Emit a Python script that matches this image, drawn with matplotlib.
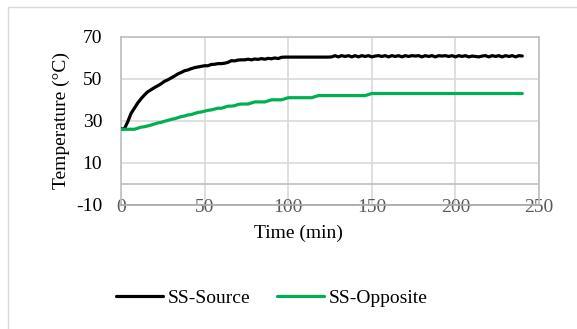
import matplotlib.pyplot as plt
import matplotlib.patches as patches

# data, one reading every 2 minutes
time_min = list(range(0, 242, 2))

ss_source = [26.2, 26.2, 29.5, 33.5, 36.0, 38.5, 40.5, 42.3, 43.8, 44.8,
             45.8, 46.7, 47.6, 48.8, 49.5, 50.4, 51.3, 52.3, 53.0, 53.8,
             54.2, 54.8, 55.3, 55.6, 55.9, 56.2, 56.2, 56.8, 56.9, 57.2,
             57.2, 57.4, 57.8, 58.6, 58.5, 58.9, 59.0, 59.0, 59.3, 59.0,
             59.4, 59.2, 59.6, 59.3, 59.7, 59.5, 59.9, 59.6, 60.2, 60.3,
             60.3, 60.3, 60.3, 60.3, 60.3, 60.3, 60.3, 60.3, 60.3, 60.3,
             60.3, 60.3, 60.3,
             60.4, 61.0, 60.4, 61.0, 60.6, 61.0, 60.4, 61.0, 60.4, 61.0,
             60.6, 61.0, 60.4, 60.8, 61.0, 60.6, 61.0, 60.4, 61.0, 60.6,
             61.0, 60.4, 61.0, 60.6, 61.0, 60.8, 61.0, 60.4, 61.0, 60.6,
             61.0, 60.4, 61.0, 60.8, 61.0, 60.6, 61.0, 60.4, 61.0, 60.6,
             61.0, 60.4, 60.8, 60.6, 60.4, 60.8, 61.0, 60.4, 61.0, 60.6,
             61.0, 60.4, 61.0, 60.6, 61.0, 60.4, 61.0, 60.8]

ss_opposite = [26, 26, 26, 26, 26,
               26.5, 27, 27.2, 27.6, 28, 28.5, 29, 29.3, 29.8, 30.2,
               30.7, 31, 31.5, 32, 32.3, 32.8, 33, 33.5, 34, 34.2,
               34.6, 35, 35.2, 35.6, 36, 36, 36.5, 37, 37, 37.2,
               37.8, 38, 38, 38, 38.5, 39, 39, 39, 39, 39.5,
               40, 40, 40, 40, 40.5,
               41, 41, 41, 41, 41, 41, 41, 41,
               41.5,
               42, 42, 42, 42, 42, 42, 42, 42, 42, 42, 42, 42, 42, 42, 42,
               42.5,
               43, 43, 43, 43, 43, 43, 43, 43, 43, 43, 43, 43, 43, 43, 43,
               43, 43, 43, 43, 43, 43, 43, 43, 43, 43, 43, 43, 43, 43, 43,
               43, 43, 43, 43, 43, 43, 43, 43, 43, 43, 43, 43, 43, 43, 43,
               43]

x_ticks = [0, 50, 100, 150, 200, 250]
y_ticks = [-10, 10, 30, 50, 70]

plt.rcParams['font.family'] = ['Liberation Serif', 'DejaVu Serif']
plt.rcParams['font.size'] = 14
plt.rcParams['axes.unicode_minus'] = False  # plain hyphen in "-10"

fig = plt.figure(figsize=(5.77, 3.29), dpi=100)
ax = fig.add_axes([121 / 577, 1 - 205 / 329, 418 / 577, 168.3 / 329])

# outer chart border (cropped on the right and bottom)
fig.patches.append(patches.Rectangle((7.5 / 577, -0.1), 1.2, 1.1 - 7.5 / 329,
                                     transform=fig.transFigure, fill=False,
                                     edgecolor='#d9d9d9', lw=1))

ax.plot(time_min, ss_source, color='black', lw=2.3, label='SS-Source',
        solid_capstyle='round', zorder=3)
ax.plot(time_min, ss_opposite, color='#00b050', lw=2.3, label='SS-Opposite',
        solid_capstyle='round', zorder=3)

ax.set_xlim(0, 250)
ax.set_ylim(-10, 70)
ax.set_xticks(x_ticks)
ax.set_yticks(y_ticks)

ax.grid(True, color='#d9d9d9', lw=1.2)
ax.axhline(0, color='#bfbfbf', lw=1.2, zorder=2)
ax.set_axisbelow(True)
for side in ax.spines:
    ax.spines[side].set_color('#bfbfbf')
    ax.spines[side].set_linewidth(1.2)
ax.spines['bottom'].set_color('#a6a6a6')

ax.tick_params(axis='both', length=0)
ax.tick_params(axis='y', pad=13.5, colors='black')
ax.tick_params(axis='x', pad=-4, labelcolor='#595959')

ax.set_ylabel('Temperature (°C)', labelpad=4)
fig.text(298 / 577, 1 - 233 / 329, 'Time (min)', ha='center', va='center')

ax.legend(loc='center', bbox_to_anchor=(272 / 577, 1 - 298 / 329),
          bbox_transform=fig.transFigure, ncol=2, frameon=False,
          handlelength=2.4, handletextpad=0.25, columnspacing=1.4,
          borderaxespad=0)

fig.savefig('out.png', dpi=100)
